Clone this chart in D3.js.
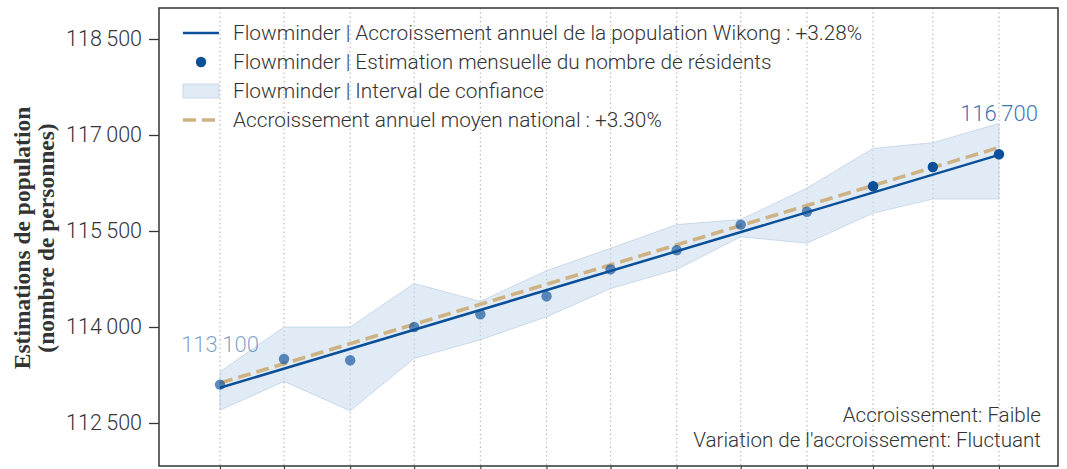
<!DOCTYPE html>
<html>
<head>
<meta charset="utf-8">
<script src="https://cdn.jsdelivr.net/npm/d3@7"></script>
<style>
  body { margin: 0; background: #fff; }
  svg { display: block; font-family: Roboto, "Noto Sans", sans-serif; }
</style>
</head>
<body>
<div id="chart"></div>
<script>
// Données
const months = ["2022-04", "2022-05", "2022-06", "2022-07", "2022-08", "2022-09", "2022-10",
                "2022-11", "2022-12", "2023-01", "2023-02", "2023-03", "2023-04"];
const estimates = [113100, 113500, 113480, 114000, 114200, 114480, 114900, 115200, 115600, 115800, 116200, 116500, 116700];
const lowerCI = [112700, 113150, 112690, 113510, 113800, 114160, 114600, 114900, 115410, 115310, 115780, 116000, 116000];
const upperCI = [113300, 114000, 114000, 114680, 114400, 114880, 115230, 115600, 115680, 116170, 116790, 116880, 117180];
const quality = [0, 0, 0, 0, 0, 0, 0, 0, 0, 0, 1, 1, 1];
const trendEnds = [113050, 116690];     // Flowminder +3.28%
const nationalEnds = [113125, 116805];  // national +3.30%
const yTicks = [112500, 114000, 115500, 117000, 118500];
const legendLabels = [
  "Flowminder | Accroissement annuel de la population Wikong : +3.28%",
  "Flowminder | Estimation mensuelle du nombre de résidents",
  "Flowminder | Interval de confiance",
  "Accroissement annuel moyen national : +3.30%"
];
const noteLines = ["Accroissement: Faible", "Variation de l'accroissement: Fluctuant"];

const W = 1067, H = 469;
const margin = {top: 8, right: 9, bottom: 3, left: 159};
const width = W - margin.left - margin.right;
const height = H - margin.top - margin.bottom;

const blue = "#0b4f98";
const tan = "#cdb283";

const parse = d3.timeParse("%Y-%m");
const dates = months.map(parse);
const data = dates.map((d, i) => ({date: d, est: estimates[i], lo: lowerCI[i], hi: upperCI[i], q: quality[i]}));

const x = d3.scaleTime()
  .domain([dates[0], dates[dates.length - 1]])
  .range([61, 840]);
const y = d3.scaleLinear()
  .domain([112500, 118500])
  .range([415, 31]);
const alpha = d3.scaleOrdinal().domain([0, 1]).range([0.65, 1]);
const labelAlpha = d3.scaleOrdinal().domain([0, 1]).range([0.54, 0.8]);

const fr = d3.formatLocale({decimal: ",", thousands: "\u2009", grouping: [3], currency: ["", ""]});
const fmt = fr.format(",d");

const svg = d3.select("#chart").append("svg")
  .attr("width", W).attr("height", H);
const g = svg.append("g")
  .attr("transform", "translate(" + margin.left + "," + margin.top + ")");

// grille verticale pointillée
g.append("g")
  .selectAll("line")
  .data(dates)
  .enter().append("line")
  .attr("x1", d => x(d)).attr("x2", d => x(d))
  .attr("y1", 0).attr("y2", height + 8)
  .attr("stroke", "#b5b5b5")
  .attr("stroke-width", 1.2)
  .attr("stroke-dasharray", "1.3,3");

// intervalle de confiance
g.append("path")
  .datum(data)
  .attr("d", d3.area().x(d => x(d.date)).y0(d => y(d.lo)).y1(d => y(d.hi)))
  .attr("fill", "#c9daec")
  .attr("fill-opacity", 0.55)
  .attr("stroke", "#b9cde3")
  .attr("stroke-opacity", 0.7)
  .attr("stroke-width", 1);

const endDates = [dates[0], dates[dates.length - 1]];
const line2 = d3.line().x((d, i) => x(endDates[i])).y(d => y(d));

// moyenne nationale
g.append("path")
  .datum(nationalEnds)
  .attr("d", line2)
  .attr("fill", "none")
  .attr("stroke", tan)
  .attr("stroke-width", 3.5)
  .attr("stroke-dasharray", "13,6");

// tendance Flowminder
g.append("path")
  .datum(trendEnds)
  .attr("d", line2)
  .attr("fill", "none")
  .attr("stroke", blue)
  .attr("stroke-width", 2.5);

// estimations mensuelles
g.append("g")
  .selectAll("circle")
  .data(data)
  .enter().append("circle")
  .attr("cx", d => x(d.date))
  .attr("cy", d => y(d.est))
  .attr("r", 5.2)
  .attr("fill", blue)
  .attr("fill-opacity", d => alpha(d.q));

// étiquettes premier / dernier
[data[0], data[data.length - 1]].forEach(d => {
  g.append("text")
    .attr("x", x(d.date))
    .attr("y", y(d.est) - 33)
    .attr("text-anchor", "middle")
    .attr("font-size", 22)
    .attr("font-weight", 300)
    .attr("fill", blue)
    .attr("fill-opacity", labelAlpha(d.q))
    .text(fmt(Math.round(d.est / 100) * 100));
});

// axe Y
const yAxis = g.append("g")
  .call(d3.axisLeft(y).tickValues(yTicks).tickSize(10).tickPadding(7).tickFormat(fmt));
yAxis.select(".domain").remove();
yAxis.selectAll(".tick line").attr("stroke", "#333").attr("stroke-width", 1.3);
yAxis.selectAll(".tick text")
  .attr("font-family", "Roboto, sans-serif")
  .attr("font-size", 21.5)
  .attr("font-weight", 300)
  .attr("fill", "#333");

// axe X (graduations seulement, coupées par le bas)
const xAxis = g.append("g")
  .attr("transform", "translate(0," + height + ")")
  .call(d3.axisBottom(x).tickValues(dates).tickSize(6).tickFormat(""));
xAxis.select(".domain").remove();
xAxis.selectAll(".tick line").attr("stroke", "#333");

// cadre
g.append("rect")
  .attr("x", 0).attr("y", 0)
  .attr("width", width).attr("height", height)
  .attr("fill", "none")
  .attr("stroke", "#333")
  .attr("stroke-width", 1.5);

// titre axe Y
svg.append("text")
  .attr("transform", "translate(33,238) rotate(-90)")
  .attr("text-anchor", "middle")
  .attr("font-family", "'Liberation Serif', 'DejaVu Serif', serif")
  .attr("font-weight", "bold")
  .attr("font-size", 23.5)
  .attr("fill", "#333")
  .selectAll("tspan")
  .data(["Estimations de population", "(nombre de personnes)"])
  .enter().append("tspan")
  .attr("x", 0)
  .attr("dy", (d, i) => i === 0 ? -3 : 24)
  .text(d => d);

// légende
const legend = g.append("g").attr("transform", "translate(24,25)");
legendLabels.forEach((label, i) => {
  const row = legend.append("g").attr("transform", "translate(0," + (i * 29) + ")");
  if (i === 0) {
    row.append("line").attr("x1", 0).attr("x2", 36).attr("y1", 0).attr("y2", 0)
      .attr("stroke", blue).attr("stroke-width", 2.5);
  } else if (i === 1) {
    row.append("circle").attr("cx", 18).attr("cy", 0).attr("r", 5.2).attr("fill", blue);
  } else if (i === 2) {
    row.append("rect").attr("x", 0).attr("y", -7).attr("width", 36).attr("height", 14)
      .attr("fill", "#c9daec").attr("fill-opacity", 0.55)
      .attr("stroke", "#b9cde3").attr("stroke-opacity", 0.7);
  } else {
    row.append("line").attr("x1", 0).attr("x2", 36).attr("y1", 0).attr("y2", 0)
      .attr("stroke", tan).attr("stroke-width", 3.5).attr("stroke-dasharray", "13,6");
  }
  row.append("text")
    .attr("x", 50).attr("y", 0).attr("dy", "0.35em")
    .attr("font-size", 20.8)
    .attr("font-weight", 300)
    .attr("fill", "#333")
    .text(label);
});

// note en bas à droite
g.append("g")
  .selectAll("text")
  .data(noteLines)
  .enter().append("text")
  .attr("x", width - 17)
  .attr("y", (d, i) => 414 + i * 25)
  .attr("text-anchor", "end")
  .attr("font-size", 20.6)
  .attr("font-weight", 300)
  .attr("fill", "#333")
  .text(d => d);
</script>
</body>
</html>
